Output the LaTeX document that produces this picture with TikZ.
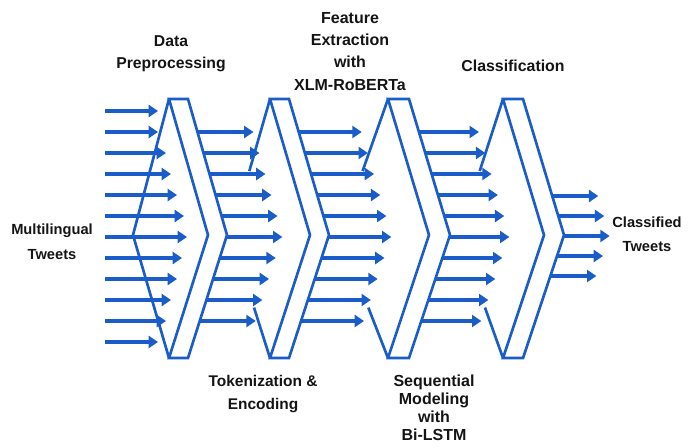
\documentclass[tikz,border=0pt]{standalone}
\usepackage{fontspec}
\setmainfont{Liberation Sans}
\usepackage{tikz}
\usetikzlibrary{arrows.meta, calc, positioning}
\definecolor{flow}{HTML}{1A5DC8}

\tikzset{
  band/.style={flow, line width=2pt, line join=miter},
  flowarrow/.style={flow, line width=2.4pt, -{Triangle[length=7pt,width=9pt]}},
  lbl/.style 2 args={font=\bfseries\fontsize{#1}{#2}\selectfont, align=center,
    inner sep=0pt, anchor=north, text=black!92}
}

% stage: name, left x, band width, depth of the point, depth of the back notch
\newcommand{\pipestage}[5]{%
  \coordinate (#1-tl) at (#2,99);
  \coordinate (#1-tr) at (#2+#3,99);
  \coordinate (#1-in) at (#2+#4,235);
  \coordinate (#1-out) at (#2+#3+#4,235);
  \coordinate (#1-bl) at (#2,358);
  \coordinate (#1-br) at (#2+#3,358);
  \coordinate (#1-back) at (#2-#5,235);
  \draw[band] (#1-tl) -- (#1-tr) -- (#1-out) -- (#1-br) -- (#1-bl) -- (#1-in) -- cycle;
}
% point on the front edge of a stage at height #2
\newcommand{\frontpoint}[3]{%
  \ifnum#2<235
    \coordinate (#3) at ($(#1-tr)!{(#2-99)/136}!(#1-out)$);
  \else
    \coordinate (#3) at ($(#1-br)!{(358-#2)/123}!(#1-out)$);
  \fi}

\begin{document}
\begin{tikzpicture}[x=0.75pt, y=-0.75pt]
  \useasboundingbox (0,0) rectangle (695,447);

  % the four stages
  \pipestage{s1}{169}{19}{39}{36}
  \pipestage{s2}{270}{19}{40}{39}
  \pipestage{s3}{388}{21}{41}{48}
  \pipestage{s4}{503}{20}{41}{44}

  % back notches
  \draw[band] (s1-tl) -- (s1-back) -- (s1-bl);
  \foreach \s in {s2,s3,s4}{
    \draw[band] (\s-tl) -- ($(\s-tl)!0.53!(\s-back)$);
    \draw[band] (\s-bl) -- ($(\s-bl)!0.41!(\s-back)$);
  }

  % incoming tweets
  \foreach \y/\tip in {111/158,132/158,153/166,174/171,195/177,216/184,
                       237/187,258/182,279/177,300/171,321/166,342/158}{
    \coordinate (in-\y) at (105,\y);
    \draw[flowarrow] (in-\y) -- (\tip,\y);
  }

  % flow between stages
  \foreach \from/\len in {s1/56, s2/63, s3/60}
    \foreach \y in {132,153,...,321}{
      \frontpoint{\from}{\y}{p}
      \draw[flowarrow] (p) -- ++(\len,0);
    }

  % classified output
  \foreach \y in {196,216,...,276}{
    \frontpoint{s4}{\y}{q}
    \draw[flowarrow] (q) -- ++(46,0);
  }

  % labels
  \node[lbl={11.8}{16.5}] (prep) at (171,35) {Data\\Preprocessing};
  \node[lbl={12}{16.7}] (feat) at (350,12) {Feature\\Extraction\\with\\XLM-RoBERTa};
  \node[lbl={11.9}{16.5}] (cls) at (513,60) {Classification};
  \node[lbl={11}{18.7}] (input) at (52,224) {Multilingual\\Tweets};
  \node[lbl={11}{18}] (output) at (647,217) {Classified\\Tweets};
  \node[lbl={11.6}{17}] (tok) at (263,375) {Tokenization \&\\Encoding};
  \node[lbl={12}{13.5}] (seq) at (434,375) {Sequential\\Modeling\\with\\Bi-LSTM};
\end{tikzpicture}
\end{document}
